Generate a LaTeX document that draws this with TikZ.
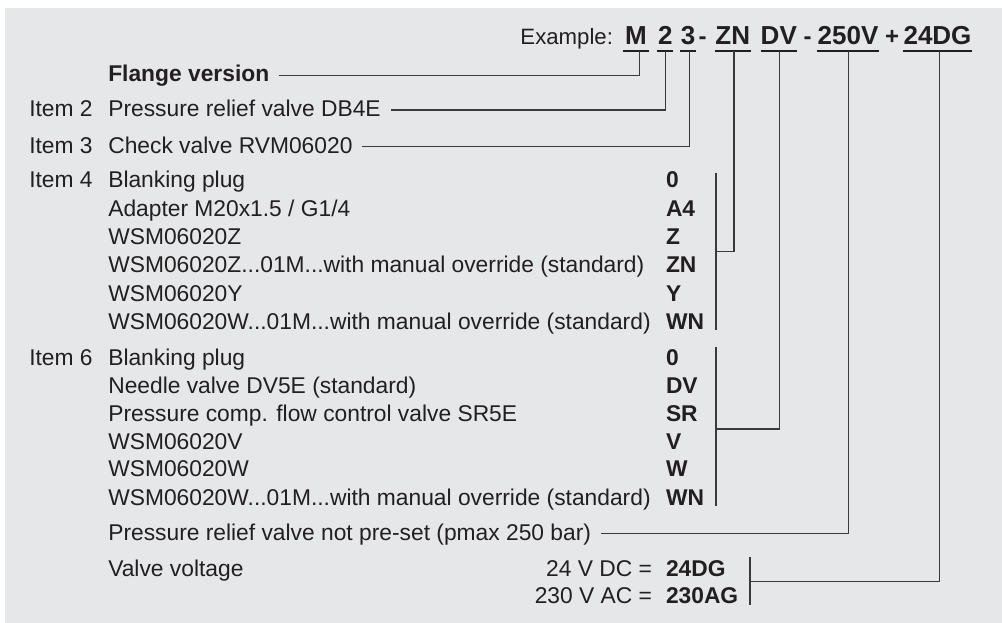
\documentclass[tikz,border=0pt]{standalone}
\usepackage{fontspec}
\setmainfont{Liberation Sans}
\definecolor{bg}{HTML}{E6E7E8}
\definecolor{ink}{HTML}{231F20}
\definecolor{ln}{HTML}{3A3A3A}
\begin{document}
\begin{tikzpicture}[x=1pt,y=-1pt,
  every node/.style={inner sep=0pt, outer sep=0pt, text=ink, font=\fontsize{22.8}{27}\selectfont},
  txt/.style={anchor=base west},
  rtxt/.style={anchor=base east},
  code/.style={anchor=base west, font=\fontsize{22.8}{27}\selectfont\bfseries},
  topcode/.style={anchor=base, font=\fontsize{26}{30}\selectfont\bfseries},
  toptxt/.style={anchor=base, font=\fontsize{24}{28}\selectfont\bfseries},
  conn/.style={draw=ln, line width=1.2pt},
  uline/.style={draw=ink, line width=1.7pt},
  lead/.style={xshift=10pt, yshift=6.7pt}]
\useasboundingbox (0,0) rectangle (1002,623);
\fill[white] (0,0) rectangle (1002,623);
\fill[bg] (5,8) rectangle (1002,623);

% top example line
\node[rtxt, font=\fontsize{22.2}{28}\selectfont] (ex) at (613,45) {Example:};
\node[topcode] (cM) at (636,45) {M};
\node[topcode] (c2) at (665.3,45) {2};
\node[topcode] (c3) at (688.2,45) {3};
\node[toptxt] (h1) at (702.5,45) {-};
\node[topcode] (cZN) at (732.8,45) {ZN};
\node[topcode] (cDV) at (778.8,45) {DV};
\node[toptxt] (h2) at (807.5,45) {-};
\node[topcode] (c250) at (848,45) {250V};
\node[toptxt] (pl) at (892,45) {+};
\node[topcode] (c24) at (937.5,45) {24DG};

\draw[uline] (622.7,50.7) -- (649.3,50.7);
\draw[uline] (657.3,50.7) -- (673.3,50.7);
\draw[uline] (680.3,50.7) -- (696,50.7);
\draw[uline] (715,50.7) -- (750.7,50.7);
\draw[uline] (761,50.7) -- (796.7,50.7);
\draw[uline] (817.3,50.7) -- (878.7,50.7);
\draw[uline] (903.3,50.7) -- (971.7,50.7);

\coordinate (uM) at (639.3,51);
\coordinate (u2) at (665.7,51);
\coordinate (u3) at (689.3,51);
\coordinate (uZN) at (734,51);
\coordinate (uDV) at (779.3,51);
\coordinate (u250) at (848.7,51);
\coordinate (u24) at (939.3,51);

% left texts
\node[txt, font=\fontsize{22.8}{27}\selectfont\bfseries] (flange) at (108.3,82) {Flange version};
\node[txt] (i2) at (29.3,116.7) {Item 2};
\node[txt] (d2) at (108.3,116.7) {Pressure relief valve DB4E};
\node[txt] (i3) at (29.3,153.3) {Item 3};
\node[txt] (d3) at (108.3,153.3) {Check valve RVM06020};

\node[txt] (i4) at (29.3,187.7) {Item 4};
\node[txt] (d4a) at (108.3,187.7) {Blanking plug};
\node[txt] (d4b) at (108.3,216) {Adapter M20x1.5 / G1/4};
\node[txt] (d4c) at (108.3,244.3) {WSM06020Z};
\node[txt] (d4d) at (108.3,272.7) {WSM06020Z...01M...with manual override (standard)};
\node[txt] (d4e) at (108.3,301) {WSM06020Y};
\node[txt] (d4f) at (108.3,329.3) {WSM06020W...01M...with manual override (standard)};
\node[code] (k4a) at (666,187.7) {0};
\node[code] (k4b) at (666,216) {A4};
\node[code] (k4c) at (666,244.3) {Z};
\node[code] (k4d) at (666,272.7) {ZN};
\node[code] (k4e) at (666,301) {Y};
\node[code] (k4f) at (666,329.3) {WN};

\node[txt] (i6) at (29.3,365) {Item 6};
\node[txt] (d6a) at (108.3,365) {Blanking plug};
\node[txt] (d6b) at (108.3,393.3) {Needle valve DV5E (standard)};
\node[txt] (d6c) at (108.3,421.7) {Pressure comp. flow control valve SR5E};
\node[txt] (d6d) at (108.3,449.3) {WSM06020V};
\node[txt] (d6e) at (108.3,476.7) {WSM06020W};
\node[txt] (d6f) at (108.3,505) {WSM06020W...01M...with manual override (standard)};
\node[code] (k6a) at (666,365) {0};
\node[code] (k6b) at (666,393.3) {DV};
\node[code] (k6c) at (666,421.7) {SR};
\node[code] (k6d) at (666,449.3) {V};
\node[code] (k6e) at (666,476.7) {W};
\node[code] (k6f) at (666,505) {WN};

\node[txt] (pr) at (108.3,540) {Pressure relief valve not pre-set (pmax 250 bar)};
\node[txt] (vv) at (108.3,576) {Valve voltage};
\node[rtxt] (vdc) at (652,576) {24 V DC =};
\node[rtxt] (vac) at (652,603.3) {230 V AC =};
\node[code] (kdc) at (666,576) {24DG};
\node[code] (kac) at (666,603.3) {230AG};

% brackets
\coordinate (b4t) at (716,172.7);
\coordinate (b4b) at (716,330);
\coordinate (b4m) at (716,251.7);
\coordinate (b6t) at (716,347.3);
\coordinate (b6b) at (716,506);
\coordinate (b6m) at (716,429);
\coordinate (bvt) at (750,556.7);
\coordinate (bvb) at (750,605);
\coordinate (bvm) at (750,581.7);
\draw[conn] (b4t) -- (b4b);
\draw[conn] (b6t) -- (b6b);
\draw[conn] (bvt) -- (bvb);

% connectors
\draw[conn] (uM) |- ([lead]flange.base east);
\draw[conn] (u2) |- ([lead]d2.base east);
\draw[conn] (u3) |- ([lead]d3.base east);
\draw[conn] (uZN) |- (b4m);
\draw[conn] (uDV) |- (b6m);
\draw[conn] (u250) |- ([lead]pr.base east);
\draw[conn] (u24) |- (bvm);
\end{tikzpicture}
\end{document}
